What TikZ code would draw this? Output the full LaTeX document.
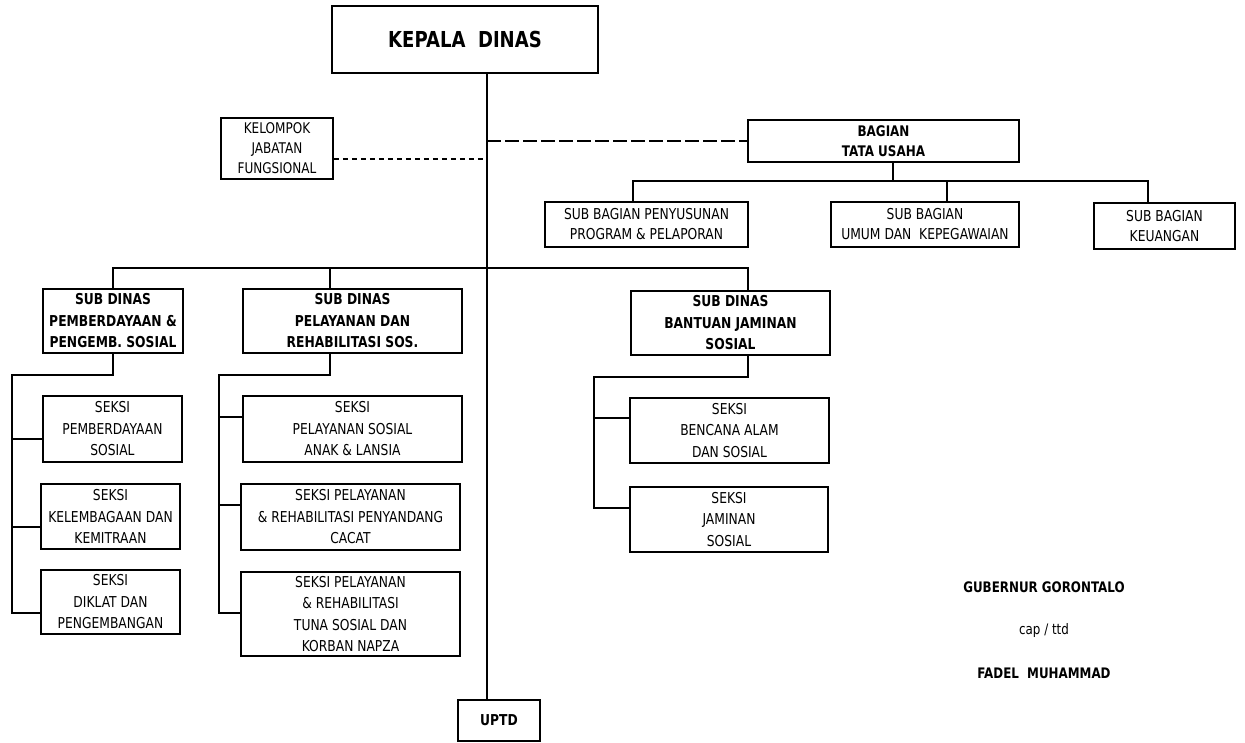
\documentclass[tikz,border=0pt]{standalone}
\usepackage{fontspec}
\setmainfont{DejaVu Sans}[FakeStretch=0.82]
\begin{document}
\begin{tikzpicture}[x=1pt,y=-1pt,
  box/.style={draw, line width=1.8pt, align=center, inner sep=0pt,
    font=\fontsize{15}{21.5}\selectfont},
  boldbox/.style={box, font=\fontsize{15}{21.5}\selectfont\bfseries},
  link/.style={line width=1.6pt},
  dotlink/.style={line width=1.4pt, dash pattern=on 5pt off 4pt},
  plain/.style={inner sep=0pt}]
\useasboundingbox (0,0) rectangle (1245,742);

% top
\node[boldbox, minimum width=266pt, minimum height=67pt, font=\fontsize{22}{24}\selectfont\bfseries] (kd) at (465,39.5) {KEPALA\ \ DINAS};
\node[box, minimum width=112pt, minimum height=61pt, font=\fontsize{14.7}{20}\selectfont] (kjf) at (277,148.5) {KELOMPOK\\JABATAN\\FUNGSIONAL};
\node[boldbox, minimum width=271pt, minimum height=42pt, font=\fontsize{14.6}{20}\selectfont\bfseries] (bag) at (883.5,141) {BAGIAN\\TATA USAHA};

\node[box, minimum width=203pt, minimum height=45pt, font=\fontsize{15}{20}\selectfont] (sb1) at (646.5,224.5) {SUB BAGIAN PENYUSUNAN\\PROGRAM \& PELAPORAN};
\node[box, minimum width=188pt, minimum height=45pt, font=\fontsize{15}{20}\selectfont] (sb2) at (925,224.5) {SUB BAGIAN\\UMUM DAN\ \ KEPEGAWAIAN};
\node[box, minimum width=141pt, minimum height=46pt, font=\fontsize{15}{20}\selectfont] (sb3) at (1164.5,226) {SUB BAGIAN\\KEUANGAN};

% sub dinas
\node[boldbox, minimum width=140pt, minimum height=64pt] (sd1) at (113,321) {SUB DINAS\\PEMBERDAYAAN \&\\PENGEMB. SOSIAL};
\node[boldbox, minimum width=219pt, minimum height=64pt] (sd2) at (352.5,321) {SUB DINAS\\PELAYANAN DAN\\REHABILITASI SOS.};
\node[boldbox, minimum width=199pt, minimum height=64pt] (sd3) at (730.5,323) {SUB DINAS\\BANTUAN JAMINAN\\SOSIAL};

% seksi
\node[box, minimum width=139pt, minimum height=66pt] (s11) at (112.5,429) {SEKSI\\PEMBERDAYAAN\\SOSIAL};
\node[box, minimum width=139pt, minimum height=65pt] (s12) at (110.5,516.5) {SEKSI\\KELEMBAGAAN DAN\\KEMITRAAN};
\node[box, minimum width=139pt, minimum height=64pt] (s13) at (110.5,602) {SEKSI\\DIKLAT DAN\\PENGEMBANGAN};

\node[box, minimum width=219pt, minimum height=66pt] (s21) at (352.5,429) {SEKSI\\PELAYANAN SOSIAL\\ANAK \& LANSIA};
\node[box, minimum width=219pt, minimum height=66pt] (s22) at (350.5,517) {SEKSI PELAYANAN\\\& REHABILITASI PENYANDANG\\CACAT};
\node[box, minimum width=219pt, minimum height=84pt] (s23) at (350.5,614) {SEKSI PELAYANAN\\\& REHABILITASI\\TUNA SOSIAL DAN\\KORBAN NAPZA};

\node[box, minimum width=199pt, minimum height=65pt] (s31) at (729.5,430.5) {SEKSI\\BENCANA ALAM\\DAN SOSIAL};
\node[box, minimum width=198pt, minimum height=65pt] (s32) at (729,519.5) {SEKSI\\JAMINAN\\SOSIAL};

\node[boldbox, minimum width=82pt, minimum height=41pt] (uptd) at (499,720.5) {UPTD};

% signature
\node[plain, font=\fontsize{14.5}{16}\selectfont\bfseries] (gub) at (1044,587) {GUBERNUR GORONTALO};
\node[plain, font=\fontsize{14.5}{16}\selectfont] (cap) at (1044,630) {cap / ttd};
\node[plain, font=\fontsize{14.5}{16}\selectfont\bfseries] (fadel) at (1044,673) {FADEL\ \ MUHAMMAD};

% helper coordinates
\coordinate (spine) at (487,0);
\coordinate (kjfline) at (0,159);
\coordinate (tubus) at (0,181);
\coordinate (tudrop) at (893,0);
\coordinate (d1) at (633,0);
\coordinate (d2) at (947,0);
\coordinate (d3) at (1148,0);
\coordinate (sdbus) at (0,268);
\coordinate (v1) at (113,0);
\coordinate (v2) at (330,0);
\coordinate (v3) at (748,0);
\coordinate (l1) at (12,375);
\coordinate (l2) at (219,375);
\coordinate (l3) at (594,377);

% spine
\draw[link] (kd.south -| spine) -- (uptd.north -| spine);
% kelompok
\draw[dotlink] (kjf.east |- kjfline) -- (spine |- kjfline);
% bagian
\draw[link, dash pattern=on 14pt off 4pt] (spine |- bag.west) -- (bag.west);
\draw[link] (bag.south -| tudrop) -- (tudrop |- tubus);
\draw[link] (d1 |- sb1.north) -- (d1 |- tubus) -- (d3 |- tubus) -- (d3 |- sb3.north);
\draw[link] (d2 |- tubus) -- (d2 |- sb2.north);

% sub dinas bus
\draw[link] (v1 |- sd1.north) -- (v1 |- sdbus) -- (v3 |- sdbus) -- (v3 |- sd3.north);
\draw[link] (v2 |- sdbus) -- (v2 |- sd2.north);

% column 1
\draw[link] (sd1.south) -- (sd1.south |- l1) -- (l1) -- (l1 |- 0,613) -- (s13.west |- 0,613);
\draw[link] (l1 |- 0,439) -- (s11.west |- 0,439);
\draw[link] (l1 |- 0,527) -- (s12.west |- 0,527);

% column 2
\draw[link] (v2 |- sd2.south) -- (v2 |- l2) -- (l2) -- (l2 |- 0,613) -- (s23.west |- 0,613);
\draw[link] (l2 |- 0,417) -- (s21.west |- 0,417);
\draw[link] (l2 |- 0,505) -- (s22.west |- 0,505);

% column 3
\draw[link] (v3 |- sd3.south) -- (v3 |- l3) -- (l3) -- (l3 |- 0,508) -- (s32.west |- 0,508);
\draw[link] (l3 |- 0,418) -- (s31.west |- 0,418);
\end{tikzpicture}
\end{document}
